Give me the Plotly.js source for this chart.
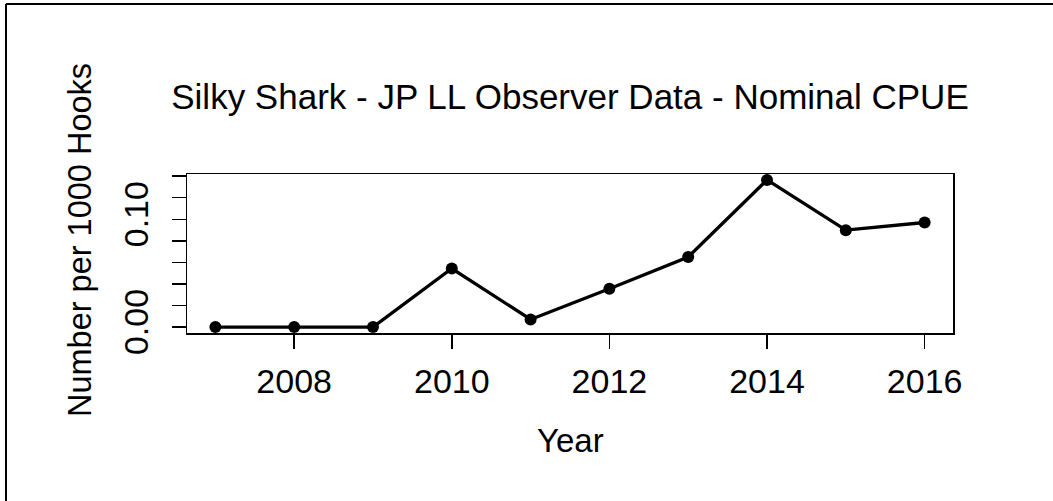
<!DOCTYPE html>
<html>
<head>
<meta charset="utf-8">
<script src="https://cdn.plot.ly/plotly-3.0.1.min.js"></script>
<style>html,body{margin:0;padding:0;background:#fff;}#chart{width:1053px;height:501px;}</style>
</head>
<body>
<div id="chart"></div>
<script>
const years = [2007, 2008, 2009, 2010, 2011, 2012, 2013, 2014, 2015, 2016];
const cpue = [0.0000, 0.0000, 0.0000, 0.0543, 0.0071, 0.0356, 0.0650, 0.1365, 0.0899, 0.0970];
const xTickVals = [2008, 2010, 2012, 2014, 2016];
const xTickText = ["2008", "2010", "2012", "2014", "2016"];
const yTickVals = [0.00, 0.02, 0.04, 0.06, 0.08, 0.10, 0.12, 0.14];
const yTickText = ["0.00", "", "", "", "", "0.10", "", ""];
const titleText = "Silky Shark - JP LL Observer Data - Nominal CPUE";
const xTitle = "Year";
const yTitle = "Number per 1000 Hooks";

const font = "Liberation Sans, Arial, sans-serif";
const trace = {
  x: years, y: cpue, type: "scatter", mode: "lines+markers",
  line: {color: "#000", width: 3.3},
  marker: {color: "#000", size: 12},
  cliponaxis: false, hoverinfo: "skip"
};
const layout = {
  width: 1053, height: 501,
  margin: {l: 187, r: 100, t: 174, b: 168, pad: 0},
  paper_bgcolor: "#fff", plot_bgcolor: "#fff",
  showlegend: false,
  font: {family: font, color: "#000", size: 33},
  title: {text: titleText, font: {family: font, size: 35, color: "#000"},
          x: 0.5, xref: "paper", y: 1 - 97/501, yref: "container", yanchor: "middle", xanchor: "center"},
  xaxis: {range: [2006.64, 2016.36], tickmode: "array", tickvals: xTickVals, ticktext: xTickText,
          ticks: "outside", ticklen: 14, tickwidth: 1.5, tickcolor: "#000", ticklabelstandoff: 4,
          showgrid: false, zeroline: false, showline: true, linecolor: "#000", linewidth: 1.5, mirror: true,
          tickfont: {size: 34, family: font, color: "#000"}, fixedrange: true},
  yaxis: {range: [-0.0055, 0.142], tickmode: "array", tickvals: yTickVals, ticktext: yTickText,
          ticks: "outside", ticklen: 14, tickwidth: 1.5, tickcolor: "#000", tickangle: -90, ticklabelstandoff: 10,
          showgrid: false, zeroline: false, showline: true, linecolor: "#000", linewidth: 1.5, mirror: true,
          tickfont: {size: 34, family: font, color: "#000"}, fixedrange: true},
  annotations: [
    {text: xTitle, xref: "paper", x: 0.5, yref: "paper", y: -(440-333)/159, xanchor: "center", yanchor: "middle",
     showarrow: false, font: {size: 33, family: font, color: "#000"}},
    {text: yTitle, xref: "paper", x: -(187-80)/766, yref: "paper", y: (333-240)/159, xanchor: "center", yanchor: "middle",
     textangle: -90, showarrow: false, font: {size: 32.5, family: font, color: "#000"}}
  ],
  shapes: [
    {type: "line", xref: "paper", yref: "paper", x0: -(187-6)/766, x1: -(187-6)/766 + 1053/766,
     y0: (501-168-4)/159, y1: (501-168-4)/159, line: {color: "#000", width: 2}},
    {type: "line", xref: "paper", yref: "paper", x0: -(187-6)/766, x1: -(187-6)/766,
     y0: (501-168-4)/159, y1: -(168)/159, line: {color: "#000", width: 2}}
  ]
};
Plotly.newPlot("chart", [trace], layout, {displayModeBar: false, staticPlot: true});
</script>
</body>
</html>
